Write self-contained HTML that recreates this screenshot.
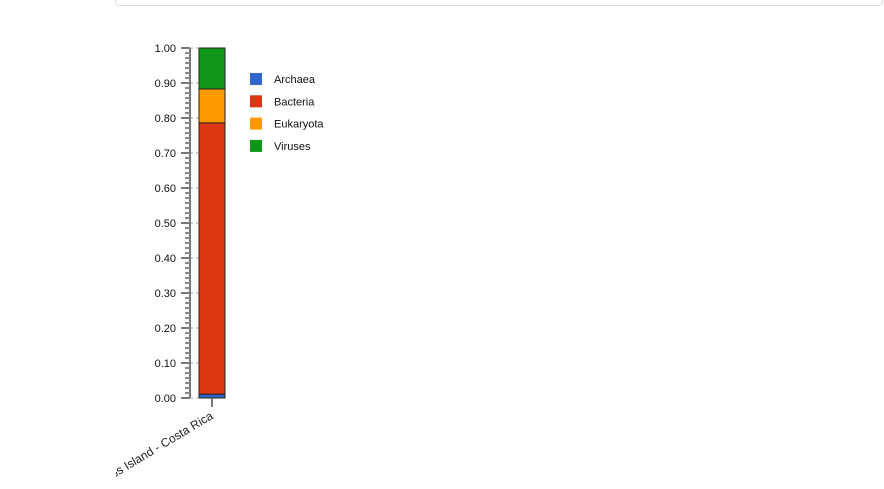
<!DOCTYPE html>
<html><head><meta charset="utf-8"><style>
body{margin:0;width:884px;height:489px;background:#fff;overflow:hidden;font-family:"Liberation Sans",sans-serif;position:relative}
#frame{position:absolute;left:115px;top:-10px;width:766px;height:14px;border:1px solid #ddd;border-radius:4px}
</style></head><body>
<div id="frame"></div>
<svg id="c" width="884" height="489" style="position:absolute;left:0;top:0">
<defs><clipPath id="clip"><rect x="116" y="0" width="768" height="489"/></clipPath></defs>
</svg>
<script>
const categories=["Cocos Island - Costa Rica"];
const seriesNames=["Archaea","Bacteria","Eukaryota","Viruses"];
const seriesColors=["#3366cc","#dc3912","#ff9900","#109618"];
const archaea=[0.011];
const bacteria=[0.775];
const eukaryota=[0.097];
const viruses=[0.117];
const tickLabels=["0.00","0.10","0.20","0.30","0.40","0.50","0.60","0.70","0.80","0.90","1.00"];
const NS="http://www.w3.org/2000/svg";
const svg=document.getElementById('c');
const y0=398,y1=48;
const y=v=>y0-(y0-y1)*v;
function mk(t,a,p){const e=document.createElementNS(NS,t);for(const k in a)e.setAttribute(k,a[k]);(p||svg).appendChild(e);return e;}
const ax=mk('g',{});


mk('line',{x1:190,y1:y1,x2:190,y2:y0,stroke:'#777','stroke-width':2},ax);
for(let i=0;i<=70;i++){const yy=Math.round(y(i/70));mk('line',{x1:185,y1:yy,x2:190,y2:yy,stroke:'#888','stroke-width':2},ax);}
tickLabels.forEach(l=>{const v=parseFloat(l),yy=Math.round(y(v));
mk('line',{x1:181,y1:yy,x2:190,y2:yy,stroke:'#777','stroke-width':2},ax);
mk('line',{x1:191,y1:yy,x2:199,y2:yy,stroke:'#bbb','stroke-width':1.5,'stroke-dasharray':'2,3'},ax);
const t=mk('text',{x:176,y:yy+4,'text-anchor':'end','font-size':11,fill:'#111'},ax);t.textContent=l;

});
const series=[archaea,bacteria,eukaryota,viruses];
categories.forEach((c,i)=>{let acc=0;const bx=199,bw=26;
series.forEach((s,j)=>{const r=mk('rect',{x:bx,y:y(acc+s[i]),width:bw,height:y(acc)-y(acc+s[i]),fill:seriesColors[j],stroke:'#222','stroke-width':1});


acc+=s[i];});
mk('line',{x1:bx+bw/2,y1:y0,x2:bx+bw/2,y2:407,stroke:'#777','stroke-width':2});
const g=mk('g',{'clip-path':'url(#clip)'});
const t=mk('text',{x:0,y:0,'text-anchor':'end','font-size':12,fill:'#222',transform:`translate(${bx+bw/2+2},${418}) rotate(-31)`},g);
t.textContent=c;

});
seriesNames.forEach((n,j)=>{const yy=79+j*22.3;
const g=mk('g',{});


mk('rect',{x:250,y:yy-6,width:12,height:12,fill:seriesColors[j]},g);
const t=mk('text',{x:274,y:yy+4,'font-size':11,fill:'#111'},g);t.textContent=n;});
</script>
</body></html>
